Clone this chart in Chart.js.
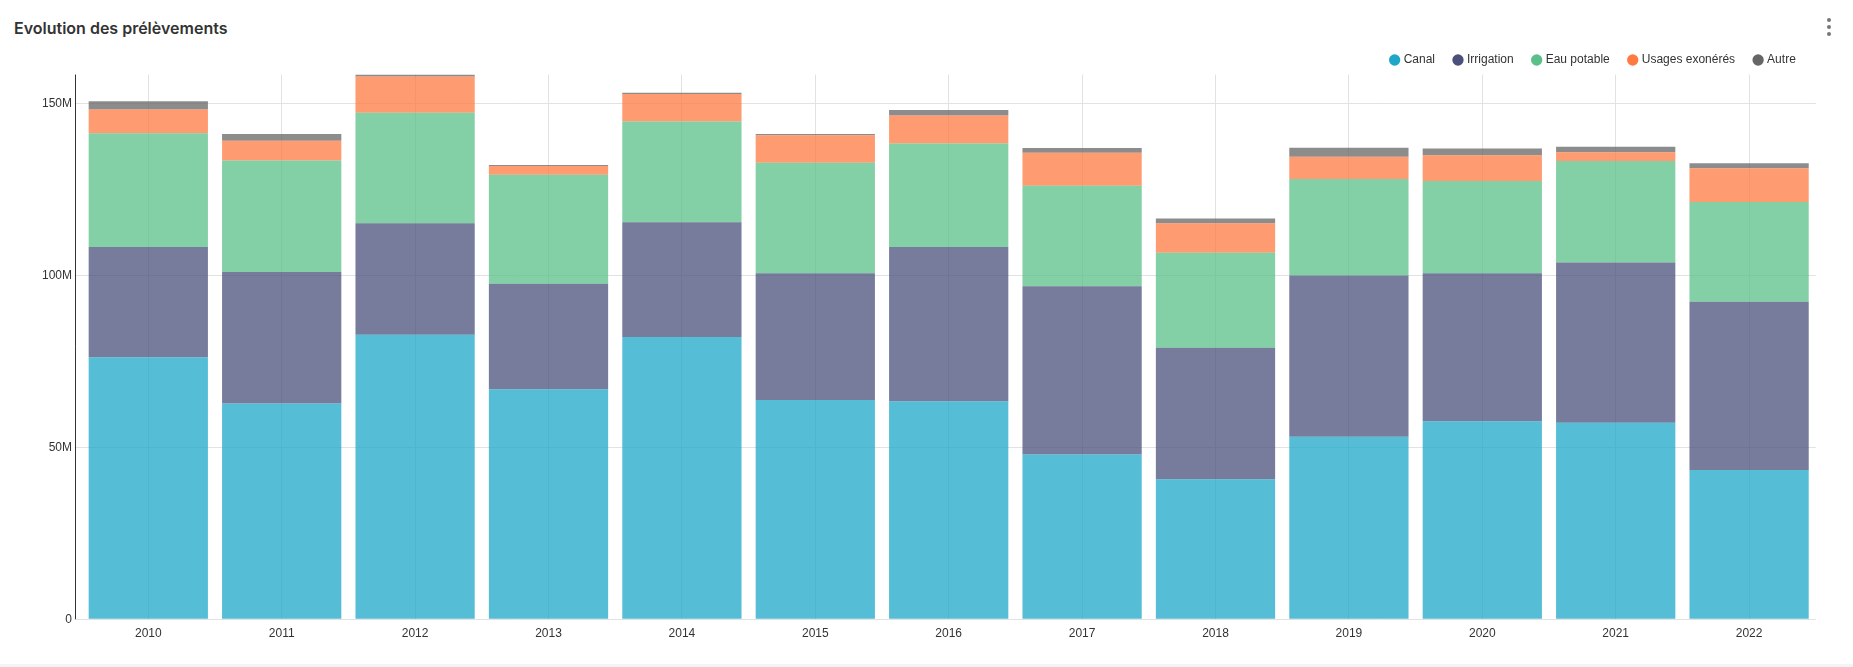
<!DOCTYPE html>
<html lang="fr">
<head>
<meta charset="utf-8">
<title>Evolution des prélèvements</title>
<script src="https://cdn.jsdelivr.net/npm/chart.js@4"></script>
<style>
  html, body { margin: 0; padding: 0; background: #fff; }
  body { width: 1853px; height: 667px; position: relative; overflow: hidden; }
  #titre { position: absolute; left: 14px; top: 18px; font: 600 16px/20px Inter, sans-serif; color: #333; }
  #menu { position: absolute; left: 1827px; top: 18px; }
  #menu span { display: block; width: 4px; height: 4px; border-radius: 50%; background: #777; margin-bottom: 3px; }
  #bas { position: absolute; left: 0; right: 0; top: 664px; height: 3px; background: #f3f4f6; }
  #zone { position: absolute; left: 0; top: 0; width: 1853px; height: 664px; }
</style>
</head>
<body>
<div id="titre">Evolution des prélèvements</div>
<div id="menu"><span></span><span></span><span></span></div>
<div id="zone"><canvas id="prelevements"></canvas></div>
<div id="bas"></div>
<script>
// Données (en millions)
const annees = ['2010', '2011', '2012', '2013', '2014', '2015', '2016', '2017', '2018', '2019', '2020', '2021', '2022'];
const canal = [76.2, 62.8, 82.8, 66.9, 82.1, 63.8, 63.4, 47.9, 40.7, 53.1, 57.6, 57.2, 43.4];
const irrigation = [32.1, 38.2, 32.4, 30.7, 33.4, 36.9, 44.9, 49.0, 38.3, 46.9, 43.1, 46.6, 49.0];
const eauPotable = [33.1, 32.5, 32.2, 31.7, 29.3, 32.1, 30.1, 29.2, 27.6, 28.1, 26.8, 29.5, 29.0];
const usagesExoneres = [6.9, 5.7, 10.5, 2.6, 8.0, 8.0, 8.2, 9.6, 8.6, 6.5, 7.5, 2.6, 9.8];
const autre = [2.4, 2.0, 0.6, 0.3, 0.4, 0.4, 1.6, 1.4, 1.4, 2.6, 2.0, 1.6, 1.5];
const yTicks = [0, 50, 100, 150];

const couleurs = ['rgb(30,167,200)', 'rgb(74,80,123)', 'rgb(90,191,136)', 'rgb(255,122,64)', 'rgb(102,102,102)'];
const couleursBarres = ['rgba(30,167,200,0.75)', 'rgba(74,80,123,0.75)', 'rgba(90,191,136,0.75)', 'rgba(255,122,64,0.75)', 'rgba(102,102,102,0.75)'];

// Total le plus haut = haut de l'axe
const totaux = annees.map((a, i) => canal[i] + irrigation[i] + eauPotable[i] + usagesExoneres[i] + autre[i]);
const maxY = Math.max(...totaux);

const police = { family: "'Liberation Sans', Arial, sans-serif", size: 12 };

// Trait de l'axe Y, un peu à gauche de la zone des barres
const axeY = {
    id: 'axeY',
    afterDraw(chart) {
        const { ctx, chartArea } = chart;
        ctx.save();
        ctx.strokeStyle = '#333';
        ctx.lineWidth = 1;
        ctx.beginPath();
        ctx.moveTo(Math.round(chartArea.left - 7) + 0.5, chartArea.top);
        ctx.lineTo(Math.round(chartArea.left - 7) + 0.5, chartArea.bottom);
        ctx.stroke();
        ctx.restore();
    }
};

// Hauteur de la légende
const hauteurLegende = {
    id: 'hauteurLegende',
    beforeInit(chart) {
        const fit = chart.legend.fit;
        chart.legend.fit = function() {
            fit.bind(chart.legend)();
            this.height = 40.5;
        };
    }
};

function creerDataset(label, data, i) {
    return {
        label: label,
        data: data,
        backgroundColor: couleursBarres[i],
        borderWidth: 0,
        barPercentage: 0.894,
        categoryPercentage: 1
    };
}

new Chart(document.getElementById('prelevements'), {
    type: 'bar',
    data: {
        labels: annees,
        datasets: [
            creerDataset('Canal', canal, 0),
            creerDataset('Irrigation', irrigation, 1),
            creerDataset('Eau potable', eauPotable, 2),
            creerDataset('Usages exonérés', usagesExoneres, 3),
            creerDataset('Autre', autre, 4)
        ]
    },
    options: {
        responsive: true,
        maintainAspectRatio: false,
        animation: false,
        layout: { padding: { top: 34, right: 37.2, bottom: 16.4, left: 0 } },
        scales: {
            x: {
                stacked: true,
                grid: { offset: false, color: '#e2e2e2', drawTicks: false },
                border: { display: false },
                ticks: { padding: 7, color: '#333', font: police }
            },
            y: {
                stacked: true,
                min: 0,
                max: maxY,
                afterBuildTicks(scale) {
                    scale.ticks = yTicks.map(v => ({ value: v }));
                },
                afterFit(scale) {
                    scale.width = 81.6;
                },
                grid: { color: '#e2e2e2', drawTicks: true, tickLength: 7 },
                border: { display: false },
                ticks: {
                    padding: 2.6,
                    color: '#333',
                    font: police,
                    callback: v => v === 0 ? '0' : v + 'M'
                }
            }
        },
        plugins: {
            legend: {
                position: 'top',
                align: 'end',
                labels: {
                    usePointStyle: true,
                    pointStyle: 'circle',
                    boxWidth: 6,
                    boxHeight: 8,
                    padding: 20,
                    color: '#333',
                    font: police,
                    generateLabels(chart) {
                        const items = Chart.defaults.plugins.legend.labels.generateLabels(chart);
                        items.forEach((it, i) => {
                            it.fillStyle = couleurs[i];
                            it.strokeStyle = couleurs[i];
                            it.lineWidth = 0;
                        });
                        return items;
                    }
                }
            },
            tooltip: { enabled: false }
        }
    },
    plugins: [axeY, hauteurLegende]
});
</script>
</body>
</html>
